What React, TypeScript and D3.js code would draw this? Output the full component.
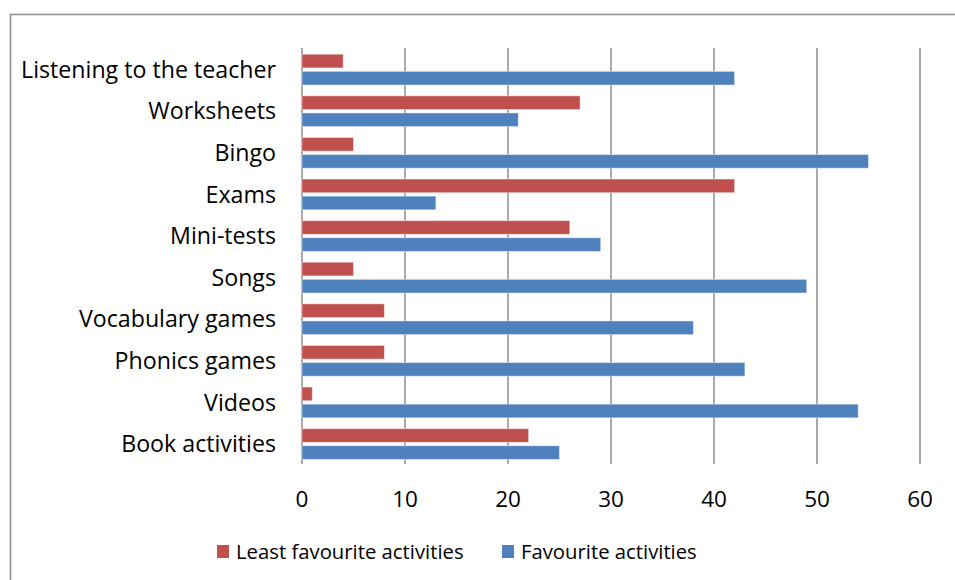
import React from "react";
import * as d3 from "d3";

const categories = [
  "Listening to the teacher",
  "Worksheets",
  "Bingo",
  "Exams",
  "Mini-tests",
  "Songs",
  "Vocabulary games",
  "Phonics games",
  "Videos",
  "Book activities",
];
const leastFavourite = [4, 27, 5, 42, 26, 5, 8, 8, 1, 22];
const favourite = [42, 21, 55, 13, 29, 49, 38, 43, 54, 25];
const seriesNames = ["Least favourite activities", "Favourite activities"];
const seriesColors = ["#C0504D", "#4F81BD"];
const xTicks = [0, 10, 20, 30, 40, 50, 60];

const FONT = "'Open Sans', sans-serif";

export default function App() {
  const W = 955;
  const H = 580;
  const x = d3.scaleLinear().domain([0, 60]).range([302, 920]);
  const y = d3.scaleBand<string>().domain(categories).range([48, 464]);
  const bw = y.bandwidth();
  const inner = d3
    .scaleBand<string>()
    .domain(seriesNames)
    .range([bw * 0.15, bw * 0.89])
    .paddingInner(0.2);
  const seriesData = [leastFavourite, favourite];

  return (
    <svg
      width={W}
      height={H}
      style={{ position: "absolute", left: 0, top: 0, background: "#fff" }}
      fontFamily={FONT}
    >
      <rect x={10.5} y={14.5} width={W + 20} height={H + 20} fill="#fff" stroke="#8c8c8c" strokeWidth={1.5} />
      {xTicks.map((t) => (
        <line key={"g" + t} x1={x(t)} x2={x(t)} y1={48} y2={464} stroke="#868686" strokeWidth={1.4} />
      ))}
      {categories.map((c, i) =>
        seriesNames.map((s, k) => (
          <rect
            key={c + s}
            x={x(0)}
            y={(y(c) ?? 0) + (inner(s) ?? 0)}
            width={x(seriesData[k][i]) - x(0)}
            height={inner.bandwidth()}
            fill={seriesColors[k]}
            stroke="#ffffff"
            strokeOpacity={0.45}
            strokeWidth={1}
          />
        ))
      )}
      {categories.map((c) => (
        <text
          key={"l" + c}
          x={276}
          y={(y(c) ?? 0) + bw / 2}
          textAnchor="end"
          dominantBaseline="central"
          fontSize={23.2}
          fill="#000"
        >
          {c}
        </text>
      ))}
      {xTicks.map((t) => (
        <text key={"t" + t} x={x(t)} y={498} textAnchor="middle" dominantBaseline="central" fontSize={22.5} fill="#000">
          {t}
        </text>
      ))}
      {seriesNames.map((s, k) => {
        const lx = [217, 502][k];
        return (
          <g key={"leg" + s}>
            <rect x={lx} y={545} width={12} height={13} fill={seriesColors[k]} />
            <text x={lx + 19} y={550.5} dominantBaseline="central" fontSize={20.3} fill="#000">
              {s}
            </text>
          </g>
        );
      })}
    </svg>
  );
}
